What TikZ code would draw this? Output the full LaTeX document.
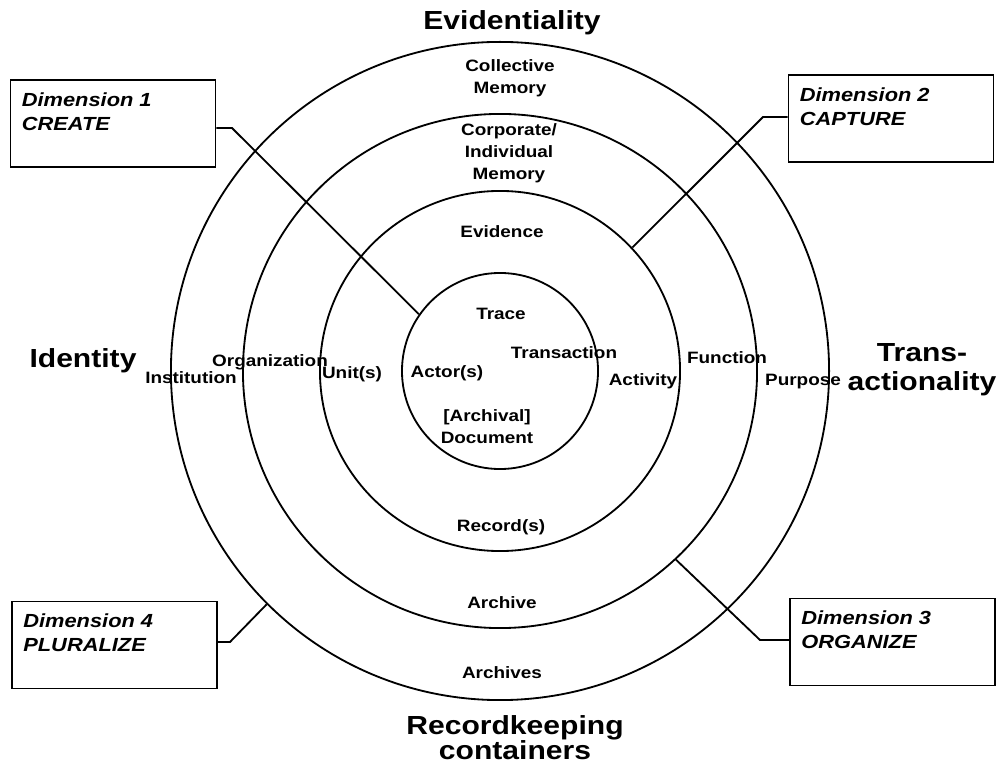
\documentclass[tikz,border=0pt]{standalone}
\usepackage{fontspec}
\setmainfont{Liberation Sans}[FakeStretch=1.15]
\usetikzlibrary{positioning}

\newcommand\tightlines{\lineskiplimit-20pt\relax}

\tikzset{
  ring/.style={draw, circle, line width=1.3pt, inner sep=0pt},
  lbl/.style={font=\fontsize{11.7}{15.6}\selectfont\bfseries, align=center, inner sep=0pt},
  biglbl/.style={font=\fontsize{18.6}{22}\selectfont\bfseries, align=center, inner sep=0pt},
  dimbox/.style={draw, line width=1.3pt, minimum width=5.125cm, minimum height=2.175cm, inner sep=0pt},
  dimtext/.style={font=\fontsize{13.5}{17}\selectfont\bfseries\itshape, align=left, inner sep=0pt},
  conn/.style={line width=1.3pt},
}

\begin{document}
\begin{tikzpicture}[x=0.025cm, y=-0.025cm]
  %frame
  	\useasboundingbox (0,0) rectangle (1001,773);

  %rings
  	\node[ring, minimum size=16.45cm] (archivesring) at (500,371) {};
  	\node[ring, minimum size=12.85cm] (archivering) at (500,371) {};
  	\node[ring, minimum size=9cm] (recordring) at (500,371) {};
  	\node[ring, minimum size=4.9cm] (docring) at (500,371) {};

  %dimension boxes
  	\node[dimbox] (dimone) at (113,123.5) {};
  	\node[dimbox] (dimtwo) at (891,118.5) {};
  	\node[dimbox] (dimthree) at (892.5,642) {};
  	\node[dimbox] (dimfour) at (114.5,645) {};
  	\node[dimtext, below right=0.325cm and 0.3cm of dimone.north west] (dimonetxt) {Dimension 1\\CREATE};
  	\node[dimtext, below right=0.325cm and 0.3cm of dimtwo.north west] (dimtwotxt) {Dimension 2\\CAPTURE};
  	\node[dimtext, below right=0.325cm and 0.3cm of dimthree.north west] (dimthreetxt) {Dimension 3\\ORGANIZE};
  	\node[dimtext, below right=0.325cm and 0.3cm of dimfour.north west] (dimfourtxt) {Dimension 4\\PLURALIZE};

  %connectors
  	\coordinate (bendone) at (232,128);
  	\coordinate (bendtwo) at (763,117);
  	\coordinate (bendthree) at (760,640);
  	\coordinate (bendfour) at (230,642);
  	\draw[conn] (dimone.east |- bendone) -- (bendone) -- (docring.145);
  	\draw[conn] (dimtwo.west |- bendtwo) -- (bendtwo) -- (recordring.43);
  	\draw[conn] (dimthree.west |- bendthree) -- (bendthree) -- (archivering.313.5);
  	\draw[conn] (dimfour.east |- bendfour) -- (bendfour) -- (archivesring.225);

  %axis labels
  	\node[biglbl, anchor=base] (evid) at (512,30) {Evidentiality};
  	\node[biglbl, anchor=base] (ident) at (83,368) {Identity};
  	\node[biglbl, anchor=north, font=\fontsize{18.6}{20.6}\selectfont\bfseries] (transact) at (922,343) {Trans-\\actionality};
  	\node[biglbl, anchor=north, font=\fontsize{18.6}{17.8}\selectfont\bfseries\tightlines] (reccont) at (515,715) {Recordkeeping\\containers};

  %ring labels
  	\node[lbl, anchor=north] (collmem) at (510,59) {Collective\\Memory};
  	\node[lbl, anchor=north] (corpmem) at (509,123) {Corporate/\\Individual\\Memory};
  	\node[lbl, anchor=base] (evidence) at (502,238) {Evidence};
  	\node[lbl, anchor=base] (trace) at (501,320) {Trace};
  	\node[lbl, anchor=base] (transaction) at (564,359) {Transaction};
  	\node[lbl, anchor=base] (activity) at (643,386) {Activity};
  	\node[lbl, anchor=base] (function) at (727,364) {Function};
  	\node[lbl, anchor=base] (purpose) at (803,386) {Purpose};
  	\node[lbl, anchor=base] (institution) at (191,384) {Institution};
  	\node[lbl, anchor=base] (organization) at (270,367) {Organization};
  	\node[lbl, anchor=base] (units) at (352,379) {Unit(s)};
  	\node[lbl, anchor=base] (actors) at (447,378) {Actor(s)};
  	\node[lbl, anchor=north] (archdoc) at (487,409) {[Archival]\\Document};
  	\node[lbl, anchor=base] (records) at (501,532) {Record(s)};
  	\node[lbl, anchor=base] (archive) at (502,609) {Archive};
  	\node[lbl, anchor=base] (archives) at (502,678) {Archives};
\end{tikzpicture}
\end{document}
